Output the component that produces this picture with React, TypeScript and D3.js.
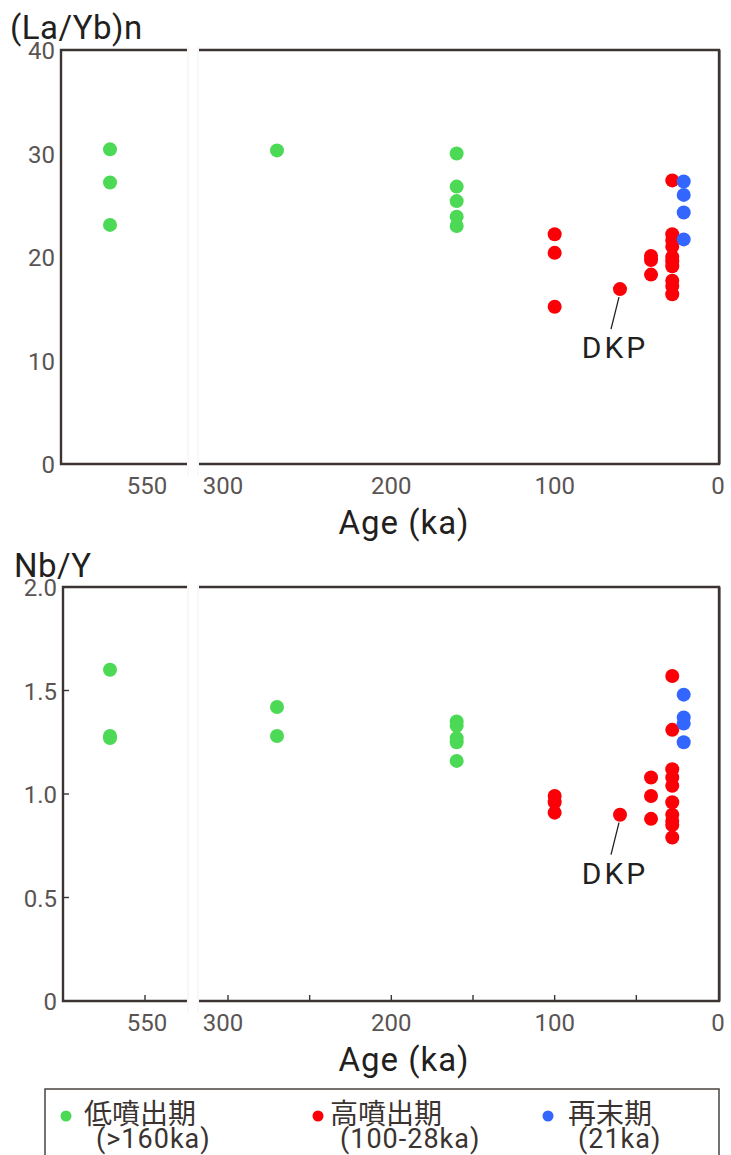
import React from "react";
import * as d3 from "d3";

// ---------- data ----------
const LOW_AGES_LAYB = [570, 570, 570, 270, 160, 160, 160, 160, 160];
const LOW_LAYB = [30.4, 27.2, 23.1, 30.3, 30.0, 26.8, 25.4, 23.9, 23.0];
const HIGH_AGES_LAYB = [100, 100, 100, 60, 41, 41, 41, 28, 28, 28, 28, 28, 28, 28, 28, 28, 28];
const HIGH_LAYB = [22.2, 20.4, 15.2, 16.9, 20.1, 19.7, 18.3, 27.4, 22.2, 21.6, 21.0, 20.0, 19.6, 19.1, 17.7, 17.2, 16.4];
const LAST_AGES_LAYB = [21, 21, 21, 21];
const LAST_LAYB = [27.3, 26.0, 24.3, 21.7];

const LOW_AGES_NBY = [570, 570, 570, 270, 270, 160, 160, 160, 160, 160];
const LOW_NBY = [1.6, 1.28, 1.27, 1.42, 1.28, 1.35, 1.33, 1.27, 1.25, 1.16];
const HIGH_AGES_NBY = [100, 100, 100, 60, 41, 41, 41, 28, 28, 28, 28, 28, 28, 28, 28, 28, 28];
const HIGH_NBY = [0.99, 0.96, 0.91, 0.9, 1.08, 0.99, 0.88, 1.57, 1.31, 1.12, 1.08, 1.04, 0.96, 0.9, 0.87, 0.85, 0.79];
const LAST_AGES_NBY = [21, 21, 21, 21];
const LAST_NBY = [1.48, 1.37, 1.34, 1.25];

const DKP_AGE = 60;
const DKP_LAYB = 16.9;
const DKP_NBY = 0.9;

const X_TICKS_RIGHT = [300, 250, 200, 150, 100, 50, 0];
const X_LABELS_RIGHT = [300, 200, 100, 0];
const X_TICK_LEFT = 550;
const Y_TICKS_LAYB = [0, 10, 20, 30, 40];
const Y_TICKS_NBY = [0, 0.5, 1.0, 1.5, 2.0];

const LEGEND_ITEMS = [
  { name: "低噴出期", range: "(>160ka)", color: "#4cd955" },
  { name: "高噴出期", range: "(100-28ka)", color: "#fb0007" },
  { name: "再末期", range: "(21ka)", color: "#3366ff" },
];

// ---------- layout ----------
const GREEN = "#4cd955";
const RED = "#fb0007";
const BLUE = "#3366ff";
const AXIS = "#3b3432";
const LABEL = "#5a5453";
const TEXT = "#231f20";
const FONT = "Roboto, 'Noto Sans', sans-serif";
const CJK = "'Noto Sans CJK JP', 'Noto Sans', sans-serif";

const X_RIGHT = 719;
const BREAK_L = 187;
const BREAK_R = 199;

// left (pre-break) segment scale: 550 -> 145, 570 -> 110
const xLeft = d3.scaleLinear().domain([570, 550]).range([110, 145]);
// right segment scale
const xRight = d3.scaleLinear().domain([300, 0]).range([228, 718]);
const xAge = (a: number) => (a > 400 ? xLeft(a) : xRight(a));

type PanelProps = {
  x0: number;
  yTop: number;
  yBot: number;
  yMax: number;
  yTicks: number[];
  yFmt: (v: number) => string;
  title: string;
  titleX: number;
  titleY: number;
  showTicks: boolean;
  groups: { ages: number[]; vals: number[]; color: string }[];
  dkp: number;
};

function Panel(p: PanelProps) {
  const y = d3.scaleLinear().domain([0, p.yMax]).range([p.yBot, p.yTop]);
  const tickLen = 6;
  const dx = xAge(DKP_AGE);
  const dy = y(p.dkp);
  return (
    <g>
      {/* faint break guides */}
      <line x1={BREAK_L + 1} x2={BREAK_L + 1} y1={p.yTop - 4} y2={p.yBot + 12} stroke="#f1f1f1" strokeWidth={1} />
      <line x1={BREAK_R - 1} x2={BREAK_R - 1} y1={p.yTop - 4} y2={p.yBot + 12} stroke="#f1f1f1" strokeWidth={1} />
      {/* frame */}
      <path
        d={`M${BREAK_L},${p.yTop}H${p.x0}V${p.yBot}H${BREAK_L}`}
        fill="none"
        stroke={AXIS}
        strokeWidth={2.4}
      />
      <path
        d={`M${BREAK_R},${p.yTop}H${X_RIGHT}V${p.yBot}H${BREAK_R}`}
        fill="none"
        stroke={AXIS}
        strokeWidth={2.4}
      />
      <line x1={X_RIGHT + 1.5} x2={X_RIGHT + 1.5} y1={p.yTop} y2={p.yBot} stroke="#8a8482" strokeWidth={1} />
      {p.showTicks && (
        <g stroke={AXIS} strokeWidth={1.4}>
          <line x1={xLeft(X_TICK_LEFT)} x2={xLeft(X_TICK_LEFT)} y1={p.yBot} y2={p.yBot - tickLen} />
          {X_TICKS_RIGHT.slice(0, -1).map((t) => (
            <line key={t} x1={xRight(t)} x2={xRight(t)} y1={p.yBot} y2={p.yBot - tickLen} />
          ))}
          {p.yTicks.slice(1, -1).map((t) => (
            <line key={t} x1={p.x0} x2={p.x0 + tickLen} y1={y(t)} y2={y(t)} />
          ))}
        </g>
      )}
      {/* y tick labels */}
      {p.yTicks.map((t) => (
        <text
          key={t}
          x={p.x0 - 6}
          y={y(t) + 3}
          textAnchor="end"
          dominantBaseline="middle"
          fontFamily={FONT}
          fontSize={24}
          fill={LABEL}
        >
          {p.yFmt(t)}
        </text>
      ))}
      {/* x tick labels */}
      <text x={xLeft(X_TICK_LEFT) + 2} y={p.yBot + 30} textAnchor="middle" fontFamily={FONT} fontSize={24} fill={LABEL}>
        {X_TICK_LEFT}
      </text>
      {X_LABELS_RIGHT.map((t) => (
        <text
          key={t}
          x={xRight(t) - (t === 300 ? 5 : 0)}
          y={p.yBot + 30}
          textAnchor="middle"
          fontFamily={FONT}
          fontSize={24}
          fill={LABEL}
        >
          {t}
        </text>
      ))}
      <text x={404} y={p.yBot + 70} textAnchor="middle" fontFamily={FONT} fontSize={33} letterSpacing={1} fill={TEXT}>
        Age (ka)
      </text>
      <text x={p.titleX} y={p.titleY} fontFamily={FONT} fontSize={33} fill={TEXT} letterSpacing={0.5}>
        {p.title}
      </text>
      {/* points */}
      {p.groups.map((g, gi) =>
        g.ages.map((a, i) => (
          <circle key={`${gi}-${i}`} cx={xAge(a)} cy={y(g.vals[i])} r={7} fill={g.color} />
        ))
      )}
      {/* DKP annotation */}
      <line x1={dx - 1} y1={dy + 8} x2={dx - 9} y2={dy + 40} stroke={TEXT} strokeWidth={1.3} />
      <text
        x={dx - 5}
        y={dy + 69}
        textAnchor="middle"
        fontFamily={FONT}
        fontSize={30}
        letterSpacing={3}
        fill={TEXT}
      >
        DKP
      </text>
    </g>
  );
}

export default function App() {
  return (
    <svg width={731} height={1155} style={{ position: "absolute", left: 0, top: 0, background: "#fff" }}>
      <rect x={0} y={0} width={731} height={1155} fill="#fff" />
      <Panel
        x0={61}
        yTop={50}
        yBot={464}
        yMax={40}
        yTicks={Y_TICKS_LAYB}
        yFmt={(v) => String(v)}
        title="(La/Yb)n"
        titleX={10}
        titleY={39}
        showTicks={false}
        dkp={DKP_LAYB}
        groups={[
          { ages: LOW_AGES_LAYB, vals: LOW_LAYB, color: GREEN },
          { ages: HIGH_AGES_LAYB, vals: HIGH_LAYB, color: RED },
          { ages: LAST_AGES_LAYB, vals: LAST_LAYB, color: BLUE },
        ]}
      />
      <Panel
        x0={63}
        yTop={587}
        yBot={1001}
        yMax={2}
        yTicks={Y_TICKS_NBY}
        yFmt={(v) => (v === 0 ? "0" : v.toFixed(1))}
        title="Nb/Y"
        titleX={14}
        titleY={577}
        showTicks={true}
        dkp={DKP_NBY}
        groups={[
          { ages: LOW_AGES_NBY, vals: LOW_NBY, color: GREEN },
          { ages: HIGH_AGES_NBY, vals: HIGH_NBY, color: RED },
          { ages: LAST_AGES_NBY, vals: LAST_NBY, color: BLUE },
        ]}
      />
      {/* legend */}
      <rect x={45} y={1089} width={674} height={90} fill="none" stroke="#4a4442" strokeWidth={1.5} />
      {LEGEND_ITEMS.map((it, i) => {
        const dotX = [66, 318, 548][i];
        const nameX = [84, 330, 568][i];
        const rangeX = [96, 340, 578][i];
        return (
          <g key={it.name}>
            <circle cx={dotX} cy={1116} r={5.5} fill={it.color} />
            <text x={nameX} y={1124} fontFamily={CJK} fontSize={28} fill="#3a3330">
              {it.name}
            </text>
            <text x={rangeX} y={1148} fontFamily={FONT} fontSize={27} letterSpacing={1} fill="#3a3330">
              {it.range}
            </text>
          </g>
        );
      })}
    </svg>
  );
}
